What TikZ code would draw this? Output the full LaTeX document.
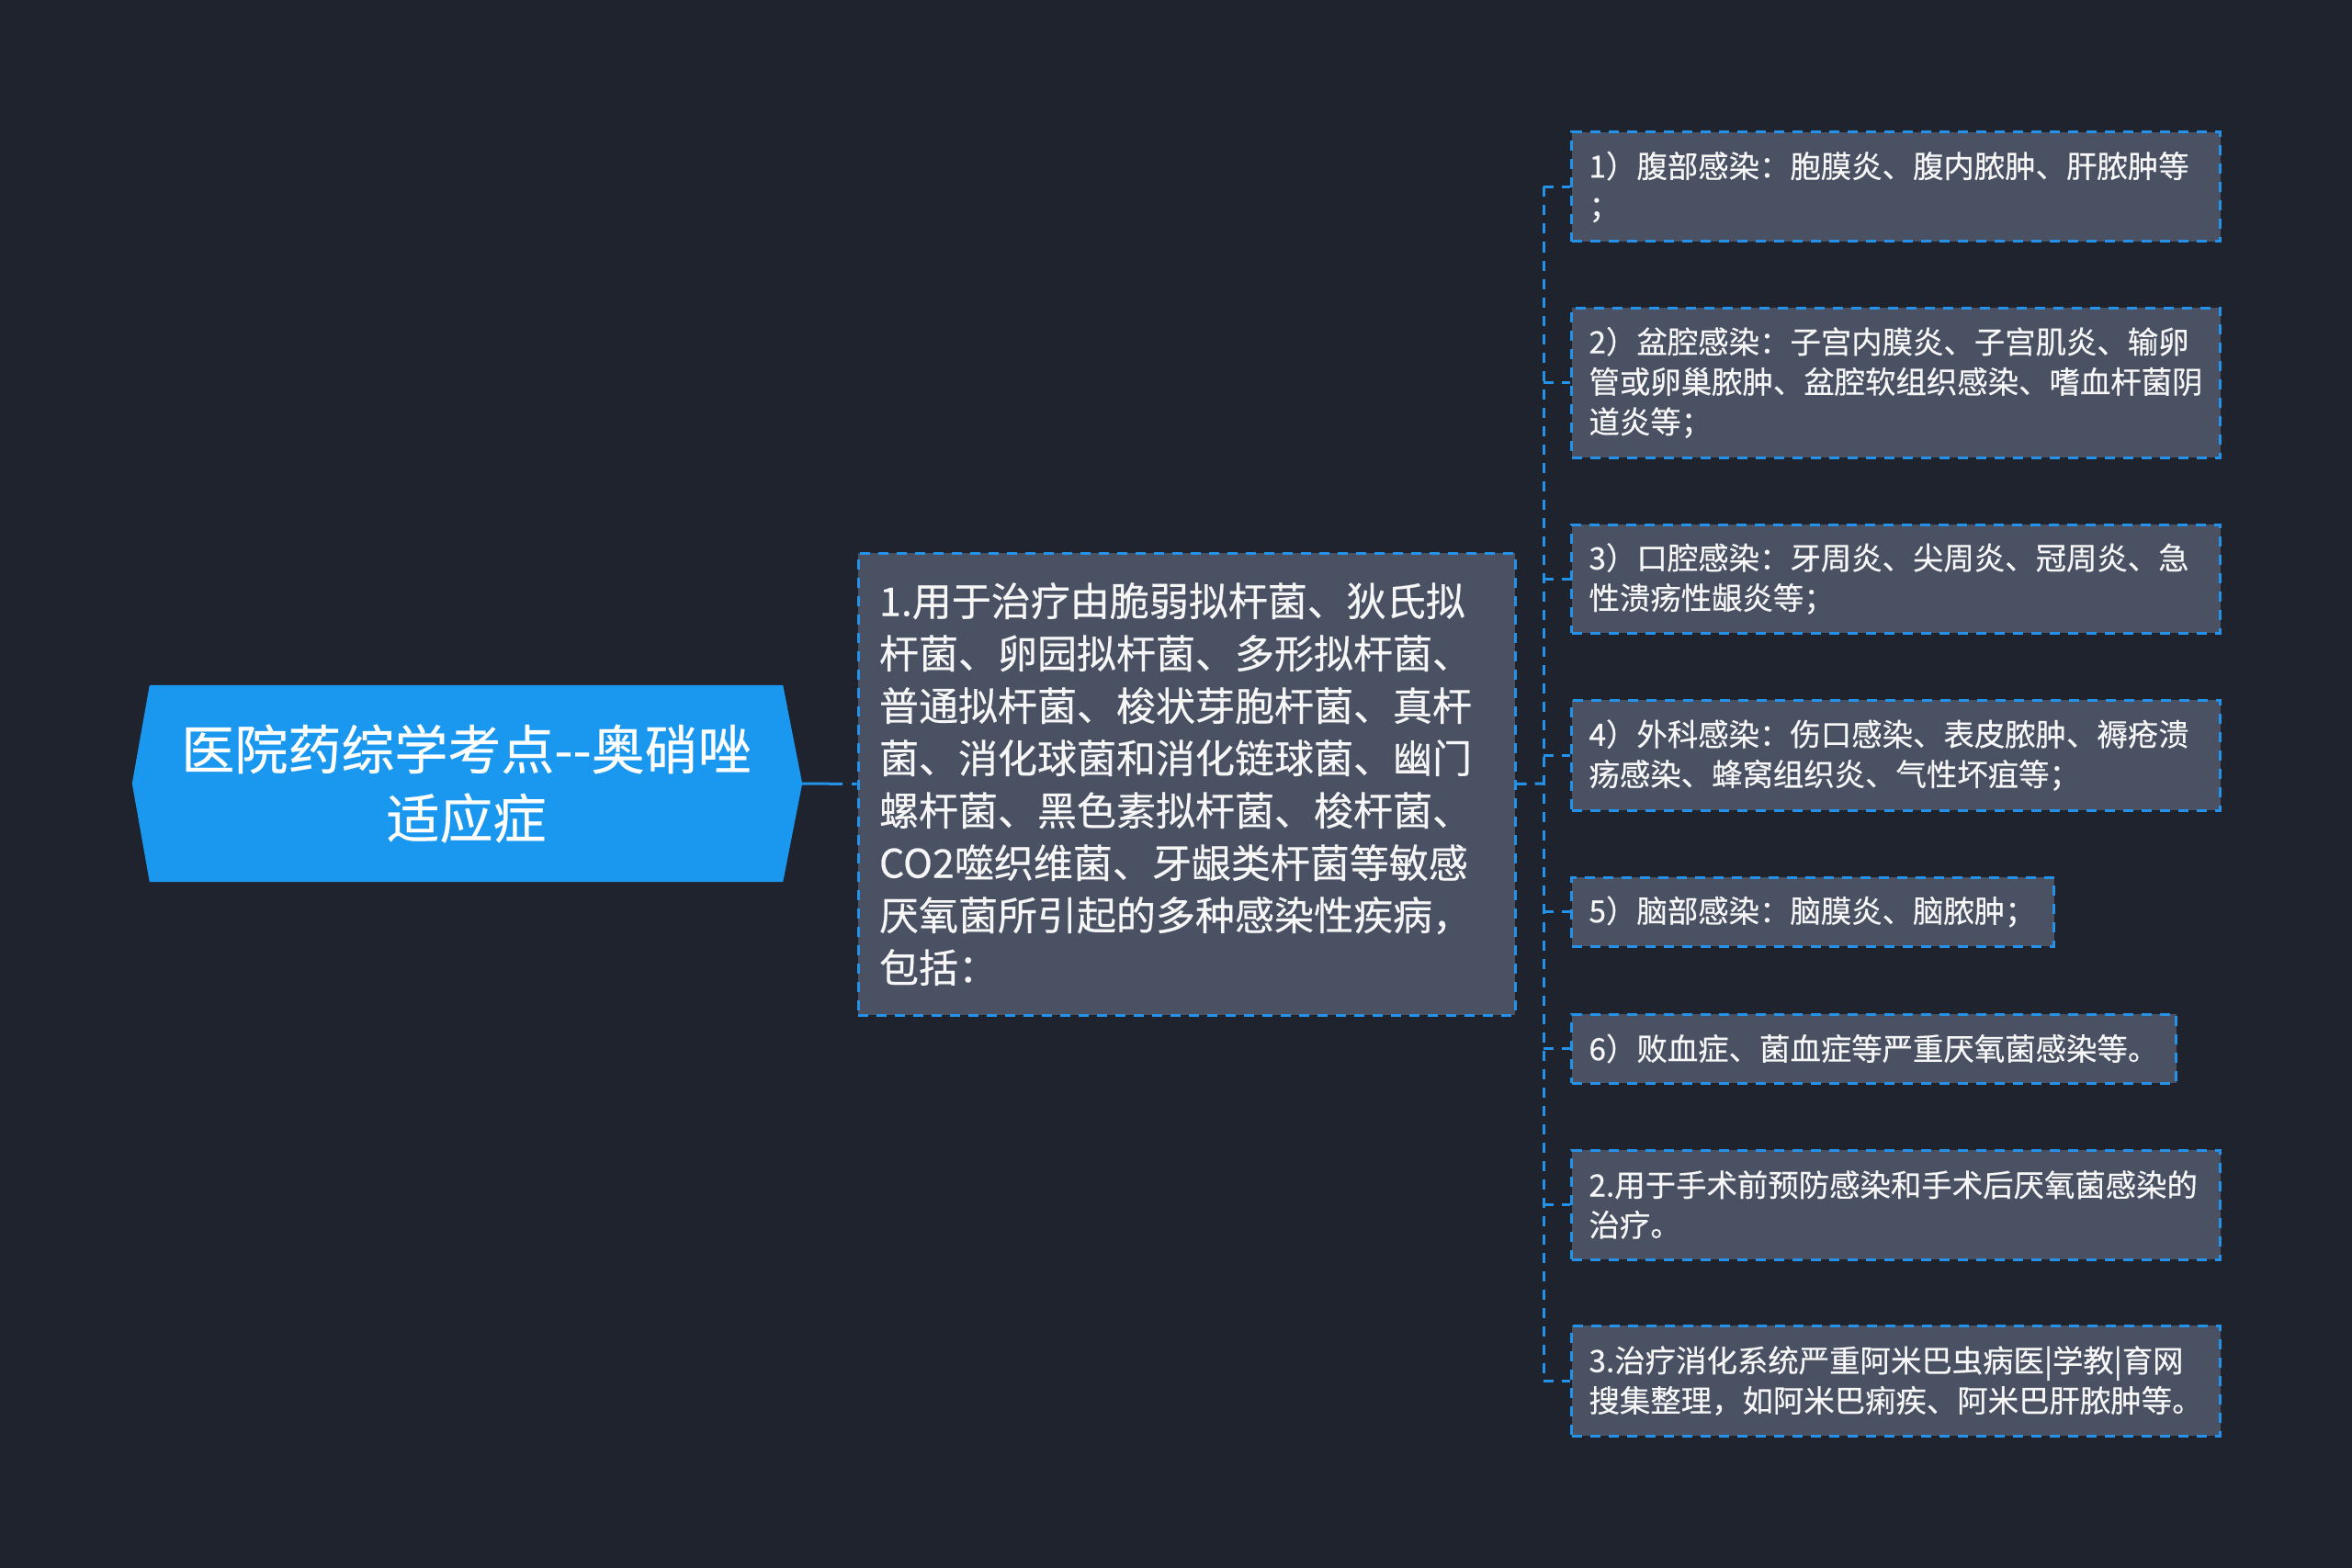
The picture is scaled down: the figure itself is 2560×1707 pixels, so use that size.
\documentclass[tikz,border=0pt]{standalone}
\usepackage{fontspec}
\setmainfont[FakeBold=0.4]{Noto Sans CJK SC}
\usetikzlibrary{calc,backgrounds}
\definecolor{bg}{HTML}{1F232E}
\definecolor{boxfill}{HTML}{4A5163}
\definecolor{edge}{HTML}{2392E8}
\definecolor{rootfill}{HTML}{1A98F0}
\definecolor{txt}{HTML}{F6F6F6}
\begin{document}
\begin{tikzpicture}[x=1pt,y=-1pt,
  dashline/.style={line width=3pt, dash pattern=on 11pt off 9pt},
  leaf/.style={draw=edge, fill=boxfill, dashline, text=txt,
    font=\fontsize{33.4}{43.5}\selectfont, inner xsep=19pt, inner ysep=0pt,
    align=left, anchor=west, text width=668pt},
  conn/.style={draw=edge, dashline},
]
\useasboundingbox (0,0) rectangle (2560,1707);

% root
\node[text=white, font=\fontsize{58}{75}\selectfont, align=center,
  minimum width=689pt, minimum height=214pt, inner sep=0pt] (root) at (507.5,853)
  {医院药综学考点-{}-奥硝唑\\适应症};
\coordinate (rootR) at ($(root.east)+(21,0)$);
\coordinate (rootL) at ($(root.west)+(-19,0)$);

% middle
\node[draw=edge, fill=boxfill, dashline, text=txt,
  font=\fontsize{43}{57}\selectfont, text width=669pt, inner xsep=23pt,
  inner ysep=0pt, minimum height=503pt, align=left] (mid) at (1291.5,853.5)
  {1.用于治疗由脆弱拟杆菌、狄氏拟\\
   杆菌、卵园拟杆菌、多形拟杆菌、\\
   普通拟杆菌、梭状芽胞杆菌、真杆\\
   菌、消化球菌和消化链球菌、幽门\\
   螺杆菌、黑色素拟杆菌、梭杆菌、\\
   CO2噬织维菌、牙龈类杆菌等敏感\\
   厌氧菌所引起的多种感染性疾病，\\
   包括：};

% children
\node[leaf, minimum height=119pt] (c1) at (1709,203.5)
  {1）腹部感染：胞膜炎、腹内脓肿、肝脓肿等\\；};
\node[leaf, minimum height=163pt] (c2) at (1709,416.5)
  {2）盆腔感染：子宫内膜炎、子宫肌炎、输卵\\管或卵巢脓肿、盆腔软组织感染、嗜血杆菌阴\\道炎等；};
\node[leaf, minimum height=118pt] (c3) at (1709,630)
  {3）口腔感染：牙周炎、尖周炎、冠周炎、急\\性溃疡性龈炎等；};
\node[leaf, minimum height=120pt] (c4) at (1709,822)
  {4）外科感染：伤口感染、表皮脓肿、褥疮溃\\疡感染、蜂窝组织炎、气性坏疽等；};
\node[leaf, minimum height=75pt, text width=487pt] (c5) at (1709,992.5)
  {5）脑部感染：脑膜炎、脑脓肿；};
\node[leaf, minimum height=75pt, text width=620pt] (c6) at (1709,1141.5)
  {6）败血症、菌血症等严重厌氧菌感染等。};
\node[leaf, minimum height=119pt] (c7) at (1709,1311.5)
  {2.用于手术前预防感染和手术后厌氧菌感染的\\治疗。};
\node[leaf, minimum height=120pt] (c8) at (1709,1503)
  {3.治疗消化系统严重阿米巴虫病医|学教|育网\\搜集整理，如阿米巴痢疾、阿米巴肝脓肿等。};

% connectors
\coordinate (spine) at (1680,853);
\draw[draw=edge, line width=3pt, dash pattern=on 44pt off 10pt] (rootR) -- (mid.west);
\draw[conn] (mid.east) -- (spine);
\draw[conn] (c1.west -| spine) -- (c8.west -| spine);
\foreach \i in {1,...,8} \draw[conn] (c\i.west -| spine) -- (c\i.west);

\begin{pgfonlayer}{background}
\fill[bg] (0,0) rectangle (2560,1707);
\fill[rootfill] (root.north west) -- (root.north east) -- (rootR) --
  (root.south east) -- (root.south west) -- (rootL) -- cycle;
\end{pgfonlayer}
\end{tikzpicture}
\end{document}
